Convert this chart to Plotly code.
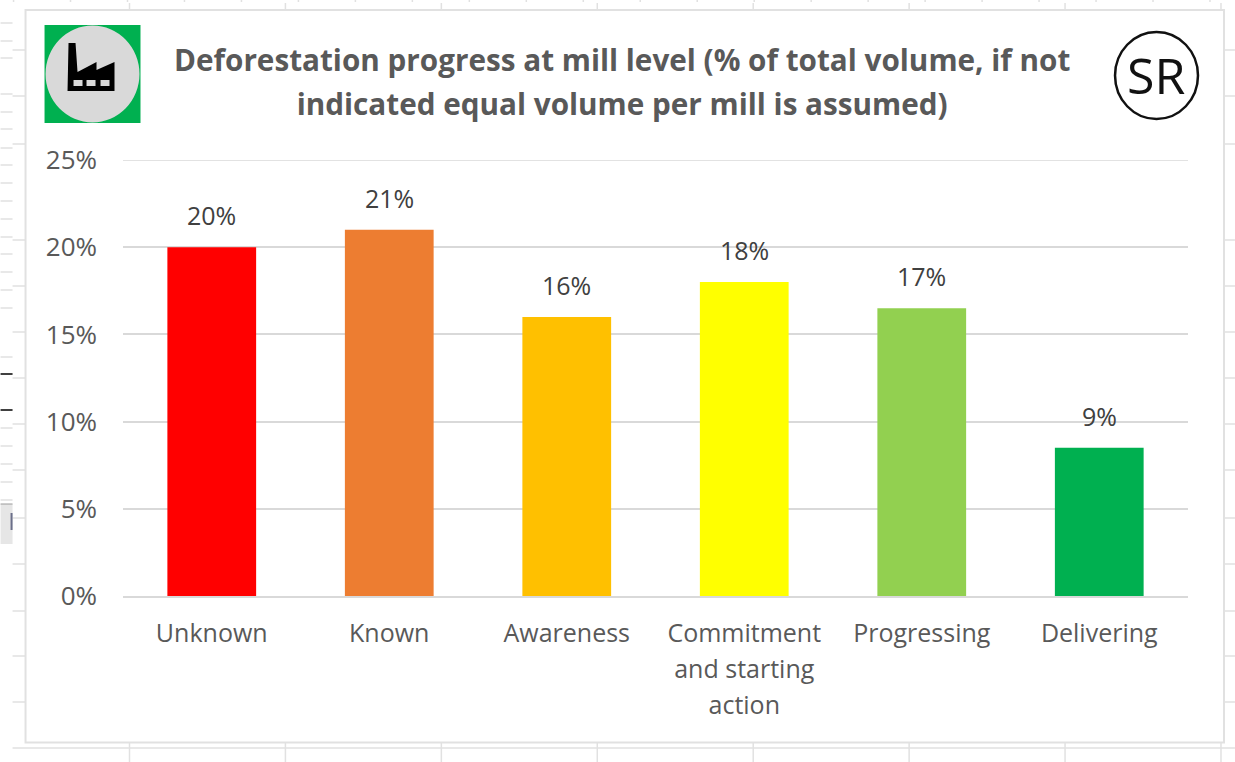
import plotly.graph_objects as go

W, H = 1235, 762
categories = ["Unknown", "Known", "Awareness", "Commitment<br>and starting<br>action", "Progressing", "Delivering"]
values = [20, 21, 16, 18, 16.5, 8.5]
value_labels = ["20%", "21%", "16%", "18%", "17%", "9%"]
bar_colors = ["#FF0000", "#ED7D31", "#FFC000", "#FFFF00", "#92D050", "#00B050"]
y_ticks = [0, 5, 10, 15, 20, 25]
y_tick_labels = ["0%", "5%", "10%", "15%", "20%", "25%"]
title_lines = ["Deforestation progress at mill level (% of total volume, if not",
               "indicated equal volume per mill is assumed)"]

FONT = "Open Sans"
TEXT = "#595959"
GRID = "#D9D9D9"
SHEET = "#E1E1E1"

PL, PR, PT, PB = 122.5, 1188, 160, 596  # plot-area edges in pixels

def px(x): return (x - PL) / (PR - PL)
def py(y): return (PB - y) / (PB - PT)

def sized(text, size):
    # inner size sets the glyphs, outer size sets the line spacing
    return "<br>".join(f'<span style="font-size:{size}px">{part}</span>' for part in text.split("<br>"))

shapes = []
def line(x0, y0, x1, y1, color=SHEET, width=1.5):
    shapes.append(dict(type="line", xref="paper", yref="paper", x0=px(x0), x1=px(x1), y0=py(y0), y1=py(y1),
                       line=dict(color=color, width=width), layer="below"))
def box(x0, y0, x1, y1, fill, layer="below", kind="rect", edge=None):
    shapes.append(dict(type=kind, xref="paper", yref="paper", x0=px(x0), x1=px(x1), y0=py(y0), y1=py(y1),
                       fillcolor=fill, line=edge or dict(width=0), layer=layer))

# spreadsheet behind the chart
for y in [23, 41, 58, 94, 112, 129, 148, 165, 183, 201, 219, 237, 254, 272, 290, 308, 357, 428, 446, 464, 482, 500]:
    line(0, y, 12, y)
for y in [374, 410]:
    line(0, y, 12, y, color="#000000", width=1.5)
for y in [50, 96, 144, 240, 286, 332, 378, 424, 470, 518, 564, 611, 656, 702]:
    line(12, y, 25, y)
    line(1224, y, 1235, y)
line(12, 748, 1235, 748)
for x in [129, 285, 441, 597, 753, 909, 1065, 1221]:
    line(x, 743, x, 762)
    line(x, 3, x, 10)
for x in range(13, 1235, 57):
    line(x, 0, x, 2)
box(0, 504, 12, 544, "#E6E6E6")
line(0, 504, 12, 504, color="#9A9A9A", width=1)
box(10, 513, 12, 530, "#6B6F8A")
# chart border
box(25, 10, 1224, 742.5, "#FFFFFF", edge=dict(color=SHEET, width=2))
# top gridline of the value axis, which sits on the axis range edge
shapes.append(dict(type="line", xref="paper", yref="y", x0=0, x1=1, y0=y_ticks[-1], y1=y_ticks[-1],
                   line=dict(color=GRID, width=1.5), layer="below"))

# factory badge
box(44, 25, 140, 123, "#00B050", layer="above")
box(45, 25.5, 139, 122.5, "#D9D9D9", layer="above", kind="circle")
pts = [(68, 43), (75, 43), (77, 72), (96, 62), (96, 70), (114, 62), (114, 91), (67, 91)]
path = "M " + " L ".join(f"{px(a):.5f} {py(b):.5f}" for a, b in pts) + " Z"
shapes.append(dict(type="path", xref="paper", yref="paper", path=path, fillcolor="#000000", line=dict(width=0)))
for x0 in [73, 86, 100]:
    box(x0, 80, x0 + 9, 86, "#D9D9D9", layer="above")
# SR badge
box(1115, 32, 1198, 119, "rgba(0,0,0,0)", layer="above", kind="circle", edge=dict(color="#111111", width=2.5))

annotations = [
    dict(text="<b>" + "<br>".join(sized(t, 29.7) for t in title_lines) + "</b>", xref="paper", yref="paper",
         x=px(622), y=py(81.5), xanchor="center", yanchor="middle", showarrow=False, align="center",
         font=dict(family=FONT, size=33.8, color=TEXT)),
    dict(text="SR", xref="paper", yref="paper", x=px(1156), y=py(75), xanchor="center", yanchor="middle",
         showarrow=False, font=dict(family=FONT, size=50, color="#111111")),
]
for cat, val, lab in zip(categories, values, value_labels):
    annotations.append(dict(text=lab, x=cat, y=val, xref="x", yref="y", xanchor="center", yanchor="middle",
                            yshift=32, showarrow=False, font=dict(family=FONT, size=25, color="#404040")))

fig = go.Figure(go.Bar(
    x=categories, y=values, marker=dict(color=bar_colors, line=dict(width=0)), width=0.5, hoverinfo="skip"))

fig.update_layout(
    width=W, height=H, margin=dict(l=PL, r=W - PR, t=PT, b=H - PB, pad=0, autoexpand=False),
    paper_bgcolor="#FFFFFF", plot_bgcolor="rgba(0,0,0,0)", showlegend=False, shapes=shapes,
    font=dict(family=FONT, color=TEXT), annotations=annotations,
)
fig.update_xaxes(type="category", showgrid=False, ticks="", showline=True, linecolor=GRID, linewidth=1.5,
                 tickmode="array", tickvals=categories, ticktext=[sized(c, 25) for c in categories],
                 tickfont=dict(family=FONT, size=27.7, color=TEXT), tickangle=0, ticklabelstandoff=11)
fig.update_yaxes(range=[0, 25], tickvals=y_ticks, ticktext=y_tick_labels, showgrid=True, gridcolor=GRID, gridwidth=1.5,
                 zeroline=False, ticks="", showline=False, ticklabelstandoff=25,
                 tickfont=dict(family=FONT, size=26, color=TEXT))

fig.write_html("out.html", config={"displayModeBar": False},
               post_script="document.body.style.margin='0';document.body.style.overflow='hidden';")
